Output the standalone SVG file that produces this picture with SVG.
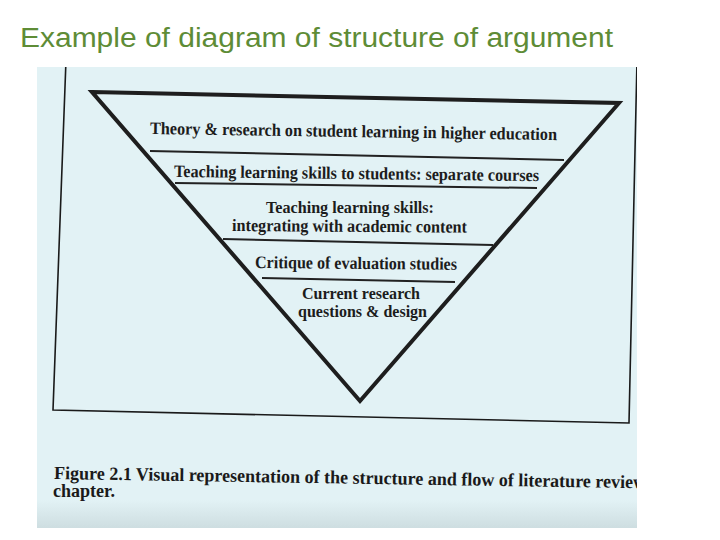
<svg xmlns="http://www.w3.org/2000/svg" width="720" height="540" viewBox="0 0 720 540">
  <defs>
    <clipPath id="scanClip"><rect x="37" y="67" width="600" height="461"/></clipPath>
    <linearGradient id="shade" x1="0" y1="0" x2="0" y2="1">
      <stop offset="0" stop-color="#b9c9cc" stop-opacity="0"/>
      <stop offset="1" stop-color="#b9c9cc" stop-opacity="0.5"/>
    </linearGradient>
  </defs>
  <style>
    .title { font-family: "Liberation Sans", Arial, sans-serif; font-size: 27px; fill: #5e8c36; }
    .lbl { font-family: "Liberation Serif", "Times New Roman", serif; font-weight: bold; font-size: 17.5px; fill: #1c1c1c; }
    .sm { font-size: 16.5px; }
    .cap { font-family: "Liberation Serif", "Times New Roman", serif; font-weight: bold; font-size: 18.5px; fill: #1a1a1a; }
    .tri { fill: none; stroke: #1e1e1e; stroke-width: 4; stroke-linejoin: miter; }
    .div { stroke: #222; stroke-width: 2; fill: none; }
    .frame { stroke: #1a1a1a; stroke-width: 1.6; fill: none; }
  </style>
  <rect x="0" y="0" width="720" height="540" fill="#ffffff"/>
  <text class="title" x="20" y="47" textLength="593" lengthAdjust="spacingAndGlyphs">Example of diagram of structure of argument</text>

  <g id="scan" clip-path="url(#scanClip)">
    <rect x="37" y="67" width="600" height="461" fill="#e2f2f5"/>
    <rect x="37" y="500" width="600" height="28" fill="url(#shade)"/>
    <g id="frame">
      <polyline class="frame" points="66,60 53,410 629,423 637,60"/>
    </g>
    <g id="connectors">
      <polygon class="tri" points="92,92 619,103 360,401"/>
      <line class="div" x1="150" y1="151" x2="564" y2="160"/>
      <line class="div" x1="175" y1="183" x2="537" y2="188"/>
      <line class="div" x1="223" y1="239" x2="493" y2="245"/>
      <line class="div" x1="262" y1="278" x2="455" y2="282"/>
    </g>
    <g id="band1">
      <text class="lbl" x="150" y="134" textLength="407" lengthAdjust="spacingAndGlyphs" transform="rotate(0.85 150 134)">Theory &amp; research on student learning in higher education</text>
    </g>
    <g id="band2">
      <text class="lbl" x="174" y="177" textLength="365" lengthAdjust="spacingAndGlyphs" transform="rotate(0.65 174 177)">Teaching learning skills to students: separate courses</text>
    </g>
    <g id="band3">
      <text class="lbl" x="266" y="213" textLength="168" lengthAdjust="spacingAndGlyphs">Teaching learning skills:</text>
      <text class="lbl" x="232" y="231" textLength="235" lengthAdjust="spacingAndGlyphs" transform="rotate(0.4 232 231)">integrating with academic content</text>
    </g>
    <g id="band4">
      <text class="lbl" x="255" y="268" textLength="202" lengthAdjust="spacingAndGlyphs" transform="rotate(0.5 255 268)">Critique of evaluation studies</text>
    </g>
    <g id="band5">
      <text class="lbl sm" x="302" y="299" textLength="118" lengthAdjust="spacingAndGlyphs">Current research</text>
      <text class="lbl sm" x="298" y="317" textLength="129" lengthAdjust="spacingAndGlyphs">questions &amp; design</text>
    </g>
    <g id="caption">
      <text class="cap" x="54" y="479" textLength="592" lengthAdjust="spacingAndGlyphs" transform="rotate(0.9 54 479)">Figure 2.1 Visual representation of the structure and flow of literature review</text>
      <text class="cap" x="53" y="497" textLength="62" lengthAdjust="spacingAndGlyphs">chapter.</text>
    </g>
  </g>
</svg>
